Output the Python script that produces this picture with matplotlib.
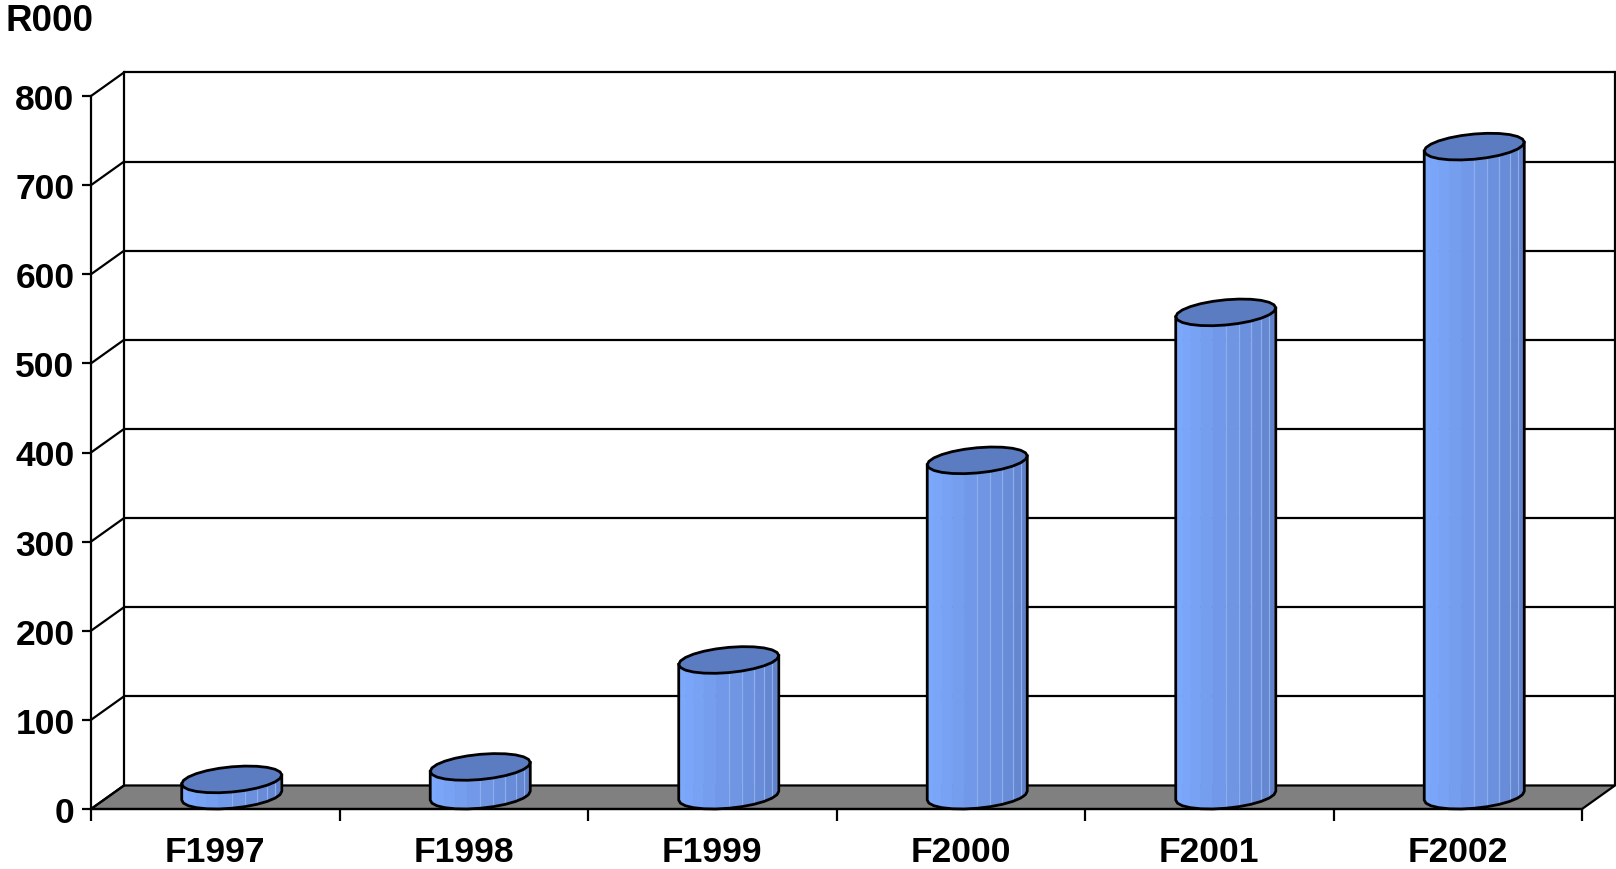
import numpy as np
import matplotlib.pyplot as plt
from matplotlib.patches import Polygon
from matplotlib.colors import to_rgb

# Data
years = ['F1997', 'F1998', 'F1999', 'F2000', 'F2001', 'F2002']
values = [20, 34, 154, 378, 544, 730]
y_ticks = list(range(0, 801, 100))
unit_label = 'R000'

plt.rcParams['font.family'] = ['Liberation Sans', 'DejaVu Sans']
plt.rcParams['font.weight'] = 'bold'
FS = 25.5

# oblique depth of the plot box, in data units (categories, value units)
DX, DY = 0.1328, 26.4
YMAX = 800
n = len(years)

fig = plt.figure(figsize=(16.16, 8.70), dpi=100)
ax = fig.add_axes([91 / 1616, 60 / 870, 6.135 * 248.5 / 1616, 827 * 0.89125 / 870])
ax.set_xlim(0, n + 0.135)
ax.set_ylim(0, 827)
ax.patch.set_visible(False)

LW = 1.6
# floor
ax.add_patch(Polygon([(0, 0), (n, 0), (n + DX, DY), (DX, DY)], closed=True,
                     facecolor='#808080', edgecolor='black', lw=LW, zorder=1,
                     clip_on=False, joinstyle='round'))
# back wall gridlines and side-wall diagonals
for v in y_ticks:
    if v > 0:
        ax.plot([DX, n + DX], [v + DY, v + DY], color='black', lw=LW, zorder=1.5,
                clip_on=False, solid_capstyle='butt')
    ax.plot([0, DX], [v, v + DY], color='black', lw=LW, zorder=1.5, clip_on=False)
ax.plot([DX, DX], [DY, YMAX + DY], color='black', lw=LW, zorder=1.5, clip_on=False)
ax.plot([n + DX, n + DX], [DY, YMAX + DY], color='black', lw=LW, zorder=1.5, clip_on=False)

# cylinders
RX = 0.19   # radius along the category axis
RD = 0.5    # depth radius as a fraction of the box depth (horizontal shift)
RY = 15.0   # vertical half-height of the elliptical ends, value units
light = np.array(to_rgb('#7EAAFF'))
dark = np.array(to_rgb('#5C7CC2'))
top_col = '#5B7CC1'


def pt(cx, base, th):
    return (cx + RX * np.cos(th) + RD * DX * np.sin(th),
            base + RY * np.sin(th))


th0 = np.arctan2(RD * DX, RX)
nf = 12
for i, v in enumerate(values):
    cx = i + 0.5 + 0.5 * DX
    b0 = RY
    b1 = v + 0.5 * DY
    ths = th0 + np.pi + np.linspace(0, np.pi, nf + 1)
    for k in range(nf):
        t = (k / (nf - 1)) ** 1.3
        col = light * (1 - t) + dark * t
        q = [pt(cx, b0, ths[k]), pt(cx, b0, ths[k + 1]),
             pt(cx, b1, ths[k + 1]), pt(cx, b1, ths[k])]
        ax.add_patch(Polygon(q, closed=True, facecolor=col, edgecolor=col,
                             lw=0.5, zorder=3, clip_on=False))
        if k >= 6:
            xa, ya = pt(cx, b0, ths[k])
            xb, yb = pt(cx, b1, ths[k])
            ax.plot([xa, xb], [ya, yb], color='#8DAEEE', lw=0.9, zorder=3.1,
                    clip_on=False)
    # outline of the body
    front = [pt(cx, b0, t) for t in ths]
    xl, yl = pt(cx, b1, ths[0])
    xr, yr = pt(cx, b1, ths[-1])
    ox = [xl] + [p[0] for p in front] + [xr]
    oy = [yl] + [p[1] for p in front] + [yr]
    ax.plot(ox, oy, color='black', lw=2.0, zorder=3.5, clip_on=False,
            solid_joinstyle='round')
    # top face
    tt = th0 + np.linspace(0, 2 * np.pi, 2 * nf + 1)
    ax.add_patch(Polygon([pt(cx, b1, t) for t in tt], closed=True,
                         facecolor=top_col, edgecolor='black', lw=2.0,
                         zorder=4, clip_on=False, joinstyle='round'))

# axes, ticks and labels
for s in ('top', 'right'):
    ax.spines[s].set_visible(False)
ax.spines['left'].set_bounds(0, YMAX)
ax.spines['bottom'].set_bounds(0, n)
for s in ('left', 'bottom'):
    ax.spines[s].set_linewidth(LW)
    ax.spines[s].set_zorder(2)

ax.set_yticks(y_ticks)
ax.set_yticklabels([str(v) for v in y_ticks])
ax.tick_params(axis='y', length=6.5, width=LW, pad=5.3, labelsize=FS)
ax.set_xticks(range(n + 1))
ax.set_xticklabels([])
ax.set_xticks(np.arange(n) + 0.5, minor=True)
ax.set_xticklabels(years, minor=True)
ax.tick_params(axis='x', which='major', length=8.6, width=LW)
ax.tick_params(axis='x', which='minor', length=0, pad=19, labelsize=FS)
for lab in ax.get_xticklabels(minor=True) + ax.get_yticklabels():
    lab.set_fontweight('bold')

fig.text(6 / 1616, 1 - 4 / 870, unit_label, ha='left', va='top', fontsize=26.5,
         fontweight='bold')

fig.savefig('out.png', dpi=100)
